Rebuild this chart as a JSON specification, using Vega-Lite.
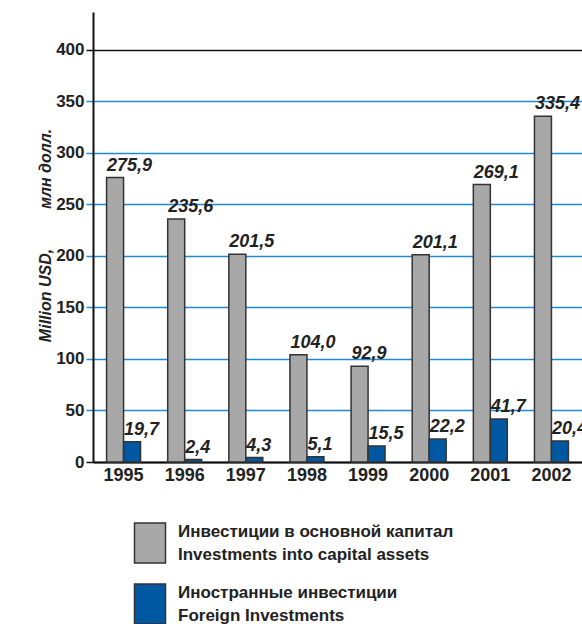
{
  "$schema": "https://vega.github.io/schema/vega-lite/v6.json",
  "width": 489,
  "height": 450,
  "autosize": {"type": "none"},
  "padding": {"left": 93, "top": 12, "right": 0, "bottom": 162},
  "config": {
    "locale": {"number": {"decimal": ",", "thousands": " ", "grouping": [3], "currency": ["", ""]}},
    "view": {"stroke": null},
    "font": "Liberation Sans"
  },
  "data": {
    "values": [
      {"year": "1995", "series": "Инвестиции в основной капитал|Investments into capital assets", "value": 275.9},
      {"year": "1995", "series": "Иностранные инвестиции|Foreign Investments", "value": 19.7},
      {"year": "1996", "series": "Инвестиции в основной капитал|Investments into capital assets", "value": 235.6},
      {"year": "1996", "series": "Иностранные инвестиции|Foreign Investments", "value": 2.4},
      {"year": "1997", "series": "Инвестиции в основной капитал|Investments into capital assets", "value": 201.5},
      {"year": "1997", "series": "Иностранные инвестиции|Foreign Investments", "value": 4.3},
      {"year": "1998", "series": "Инвестиции в основной капитал|Investments into capital assets", "value": 104.0},
      {"year": "1998", "series": "Иностранные инвестиции|Foreign Investments", "value": 5.1},
      {"year": "1999", "series": "Инвестиции в основной капитал|Investments into capital assets", "value": 92.9},
      {"year": "1999", "series": "Иностранные инвестиции|Foreign Investments", "value": 15.5},
      {"year": "2000", "series": "Инвестиции в основной капитал|Investments into capital assets", "value": 201.1},
      {"year": "2000", "series": "Иностранные инвестиции|Foreign Investments", "value": 22.2},
      {"year": "2001", "series": "Инвестиции в основной капитал|Investments into capital assets", "value": 269.1},
      {"year": "2001", "series": "Иностранные инвестиции|Foreign Investments", "value": 41.7},
      {"year": "2002", "series": "Инвестиции в основной капитал|Investments into capital assets", "value": 335.4},
      {"year": "2002", "series": "Иностранные инвестиции|Foreign Investments", "value": 20.4}
    ]
  },
  "encoding": {
    "x": {
      "field": "year",
      "type": "nominal",
      "scale": {"paddingInner": 0, "paddingOuter": 0},
      "axis": {
        "title": null,
        "labelAngle": 0,
        "ticks": false,
        "domain": true,
        "domainColor": "#111",
        "domainWidth": 2,
        "labelFontSize": 18,
        "labelFontWeight": "bold",
        "labelColor": "#222",
        "labelPadding": 4,
        "grid": false
      }
    },
    "xOffset": {
      "field": "series",
      "scale": {
        "domain": ["Инвестиции в основной капитал|Investments into capital assets", "Иностранные инвестиции|Foreign Investments"],
        "paddingInner": 0,
        "paddingOuter": 0.8
      }
    },
    "y": {
      "field": "value",
      "type": "quantitative",
      "scale": {"domain": [0, 436.4], "nice": false, "zero": true},
      "axis": {
        "values": [0, 50, 100, 150, 200, 250, 300, 350, 400],
        "grid": true,
        "gridColor": {"condition": {"test": "datum.value >= 400 || datum.value == 0", "value": "#111"}, "value": "#1f8ad2"},
        "gridWidth": 1.5,
        "tickColor": {"condition": {"test": "datum.value >= 400 || datum.value == 0", "value": "#111"}, "value": "#1f8ad2"},
        "tickWidth": 1.5,
        "tickSize": 7,
        "domainColor": "#111",
        "domainWidth": 2,
        "labelFontSize": 17,
        "labelFontWeight": "bold",
        "labelColor": "#222",
        "labelPadding": 2,
        "title": "Million USD,\u00a0\u00a0\u00a0\u00a0\u00a0\u00a0\u00a0\u00a0\u00a0млн долл.",
        "titleFontSize": 16,
        "titleFontWeight": "bold",
        "titleFontStyle": "italic",
        "titleColor": "#222",
        "titleX": -48,
        "titleY": 223,
        "titleAlign": "center",
        "titleBaseline": "middle",
        "titleAngle": -90
      }
    }
  },
  "layer": [
    {
      "mark": {"type": "bar", "stroke": "#333", "strokeWidth": 1.5},
      "encoding": {
        "color": {
          "field": "series",
          "type": "nominal",
          "scale": {
            "domain": ["Инвестиции в основной капитал|Investments into capital assets", "Иностранные инвестиции|Foreign Investments"],
            "range": ["#a8a8a8", "#0058a3"]
          },
          "legend": {
            "orient": "none",
            "legendX": 36,
            "legendY": 510,
            "title": null,
            "symbolType": "M-0.775,-1L0.775,-1L0.775,1L-0.775,1Z",
            "symbolSize": 1600,
            "symbolStrokeColor": "#333",
            "symbolStrokeWidth": 1.5,
            "symbolOpacity": 1,
            "labelFontSize": 17,
            "labelFontWeight": "bold",
            "labelColor": "#222",
            "labelOffset": 7,
            "labelLimit": 500,
            "rowPadding": 15,
            "labelExpr": "split(datum.label, '|')",
            "encode": {"labels": {"update": {"lineHeight": {"value": 23}, "dy": {"value": -11}}}}
          }
        }
      }
    },
    {
      "mark": {"type": "text", "align": "left", "baseline": "bottom", "dx": -8, "dy": -3, "fontStyle": "italic", "fontWeight": "bold", "fontSize": 18, "color": "#222"},
      "encoding": {"text": {"field": "value", "type": "quantitative", "format": ".1f"}}
    }
  ]
}
